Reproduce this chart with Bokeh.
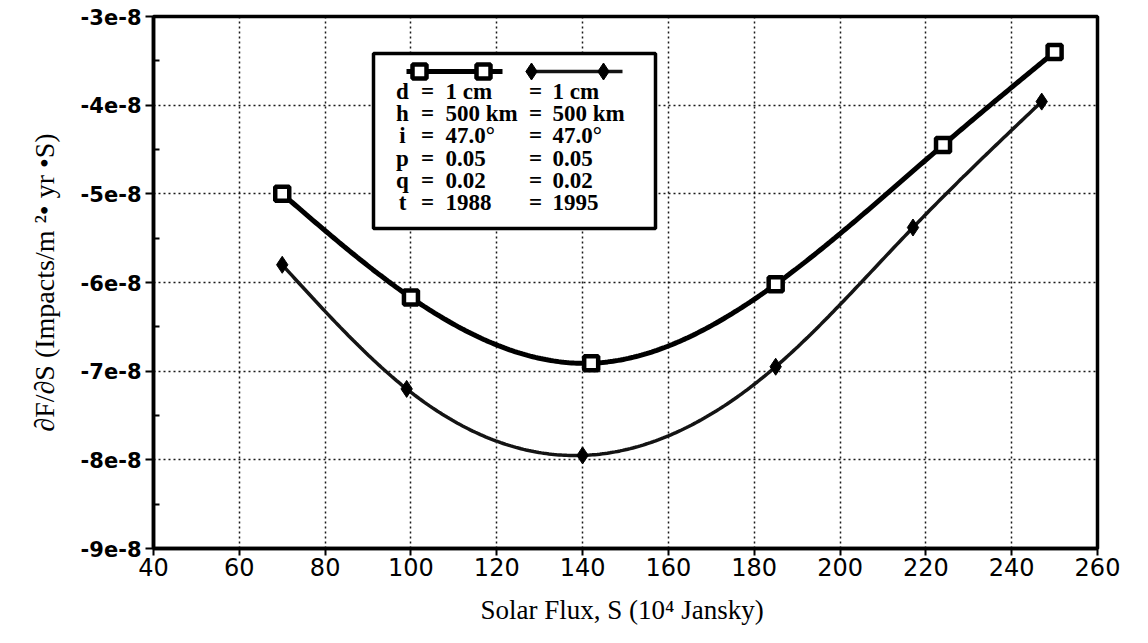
import numpy as np
from bokeh.plotting import figure
from bokeh.models import Range1d, FixedTicker, CustomJSTickFormatter
from bokeh.core.properties import value
from bokeh.embed import file_html
from bokeh.resources import INLINE

# ---- data -------------------------------------------------------------
flux_1988 = [70, 100, 142, 185, 224, 250]
dfds_1988 = [-5.00e-8, -6.17e-8, -6.91e-8, -6.02e-8, -4.45e-8, -3.40e-8]

flux_1995 = [70, 99, 140, 185, 217, 247]
dfds_1995 = [-5.80e-8, -7.20e-8, -7.95e-8, -6.95e-8, -5.38e-8, -3.96e-8]

x_ticks = [40, 60, 80, 100, 120, 140, 160, 180, 200, 220, 240, 260]
y_ticks = [-9e-8, -8e-8, -7e-8, -6e-8, -5e-8, -4e-8, -3e-8]
y_minor = [-8.5e-8, -7.5e-8, -6.5e-8, -5.5e-8, -4.5e-8, -3.5e-8]

# legend parameter table
param_names = ["d", "h", "i", "p", "q", "t"]
param_1988 = ["1 cm", "500 km", "47.0°", "0.05", "0.02", "1988"]
param_1995 = ["1 cm", "500 km", "47.0°", "0.05", "0.02", "1995"]

# ---- layout -----------------------------------------------------------
W, H = 1148, 643
FL, FR, FT, FB = 153, 1097, 16, 548  # frame edges in page pixels
X0, X1 = 40, 260
Y0, Y1 = -9e-8, -3e-8


def px_x(px):
    return X0 + (px - FL) * (X1 - X0) / (FR - FL)


def px_y(py):
    return Y1 - (py - FT) * (Y1 - Y0) / (FB - FT)


def natural_spline(xs, ys, n=300):
    x = np.asarray(xs, float)
    y = np.asarray(ys, float)
    m = len(x)
    h = np.diff(x)
    A = np.zeros((m, m))
    r = np.zeros(m)
    A[0, 0] = A[-1, -1] = 1.0
    for i in range(1, m - 1):
        A[i, i - 1] = h[i - 1]
        A[i, i] = 2 * (h[i - 1] + h[i])
        A[i, i + 1] = h[i]
        r[i] = 3 * ((y[i + 1] - y[i]) / h[i] - (y[i] - y[i - 1]) / h[i - 1])
    c = np.linalg.solve(A, r)
    b = (y[1:] - y[:-1]) / h - h * (2 * c[:-1] + c[1:]) / 3
    d = (c[1:] - c[:-1]) / (3 * h)
    xx = np.linspace(x[0], x[-1], n)
    idx = np.clip(np.searchsorted(x, xx) - 1, 0, m - 2)
    dx = xx - x[idx]
    yy = y[idx] + b[idx] * dx + c[idx] * dx ** 2 + d[idx] * dx ** 3
    return xx, yy


p = figure(
    width=W, height=H, output_backend="svg", toolbar_location=None,
    x_range=Range1d(X0, X1), y_range=Range1d(Y0, Y1),
    min_border_left=FL, min_border_right=W - FR,
    min_border_top=FT, min_border_bottom=H - FB,
    background_fill_color="white", border_fill_color="white",
)
p.outline_line_color = "black"
p.outline_line_width = 3.5
p.outline_line_alpha = 1.0

# axes
p.xaxis.ticker = FixedTicker(ticks=x_ticks)
p.xaxis.minor_tick_line_color = None
p.xaxis.major_tick_out = 7
p.xaxis.major_tick_in = 0
p.xaxis.major_tick_line_width = 2
p.xaxis.axis_line_width = 3.5
p.xaxis.major_label_standoff = 2
p.xaxis.major_label_text_font = "DejaVu Sans"
p.xaxis.major_label_text_font_size = "24px"
p.xaxis.major_label_text_color = "black"
p.xaxis.axis_label = "Solar Flux,  S (10⁴ Jansky)"
p.xaxis.axis_label_text_font = "Liberation Serif"
p.xaxis.axis_label_text_font_style = "normal"
p.xaxis.axis_label_text_font_size = "27px"
p.xaxis.axis_label_text_color = "black"
p.xaxis.axis_label_standoff = 16

p.yaxis.ticker = FixedTicker(ticks=y_ticks, minor_ticks=y_minor)
p.yaxis.formatter = CustomJSTickFormatter(code="return tick.toExponential(0);")
p.yaxis.major_tick_out = 8
p.yaxis.major_tick_in = 0
p.yaxis.minor_tick_in = 6
p.yaxis.minor_tick_out = 0
p.yaxis.major_tick_line_width = 2
p.yaxis.minor_tick_line_width = 2
p.yaxis.axis_line_width = 3.5
p.yaxis.major_label_standoff = 4
p.yaxis.major_label_text_font = "DejaVu Sans"
p.yaxis.major_label_text_font_style = "bold"
p.yaxis.major_label_text_font_size = "21px"
p.yaxis.major_label_text_color = "black"
p.yaxis.axis_label = "∂F/∂S (Impacts/m ²• yr •S)"
p.yaxis.axis_label_text_font = "Liberation Serif"
p.yaxis.axis_label_text_font_style = "normal"
p.yaxis.axis_label_text_font_size = "28px"
p.yaxis.axis_label_text_color = "black"
p.yaxis.axis_label_standoff = 18

# dotted grid
for g in (p.xgrid, p.ygrid):
    g.grid_line_color = "black"
    g.grid_line_dash = "2 3"
    g.grid_line_width = 1.5
    g.grid_line_alpha = 0.9
p.xgrid.ticker = FixedTicker(ticks=x_ticks)
p.ygrid.ticker = FixedTicker(ticks=y_ticks)

# curves
sx1, sy1 = natural_spline(flux_1988, dfds_1988)
sx2, sy2 = natural_spline(flux_1995, dfds_1995)
p.line(sx2, sy2, line_color="#141414", line_width=3.5)
p.scatter(flux_1995, dfds_1995, marker="diamond", size=17,
          fill_color="black", line_color="black")
p.line(sx1, sy1, line_color="black", line_width=5)
p.scatter(flux_1988, dfds_1988, marker="square", size=14,
          fill_color="white", line_color="black", line_width=4.5)

# legend box
p.quad(left=[px_x(373)], right=[px_x(655)], top=[px_y(53)], bottom=[px_y(228)],
       fill_color="white", line_color="black", line_width=3.5)

ly = px_y(71)
p.line([px_x(406), px_x(502)], [ly, ly], line_color="black", line_width=5)
p.scatter([px_x(419), px_x(483)], [ly, ly], marker="square", size=14,
          fill_color="white", line_color="black", line_width=4.5)
p.line([px_x(528), px_x(622)], [ly, ly], line_color="#141414", line_width=3.5)
p.scatter([px_x(531), px_x(603)], [ly, ly], marker="diamond", size=17,
          fill_color="black", line_color="black")

row_y = [px_y(91 + 22.2 * k) for k in range(len(param_names))]
txt = dict(text_font=value("Liberation Serif"), text_font_style="bold",
           text_font_size="23px", text_color="black", text_baseline="middle")
p.text(x=[px_x(402)] * len(param_names), y=row_y, text=param_names,
       text_align="center", **txt)
p.text(x=[px_x(427)] * len(param_names), y=row_y, text=["="] * len(param_names),
       text_align="center", **txt)
p.text(x=[px_x(445)] * len(param_names), y=row_y, text=param_1988,
       text_align="left", **txt)
p.text(x=[px_x(535)] * len(param_names), y=row_y, text=["="] * len(param_names),
       text_align="center", **txt)
p.text(x=[px_x(552)] * len(param_names), y=row_y, text=param_1995,
       text_align="left", **txt)

open("out.html", "w").write(file_html(p, INLINE))
